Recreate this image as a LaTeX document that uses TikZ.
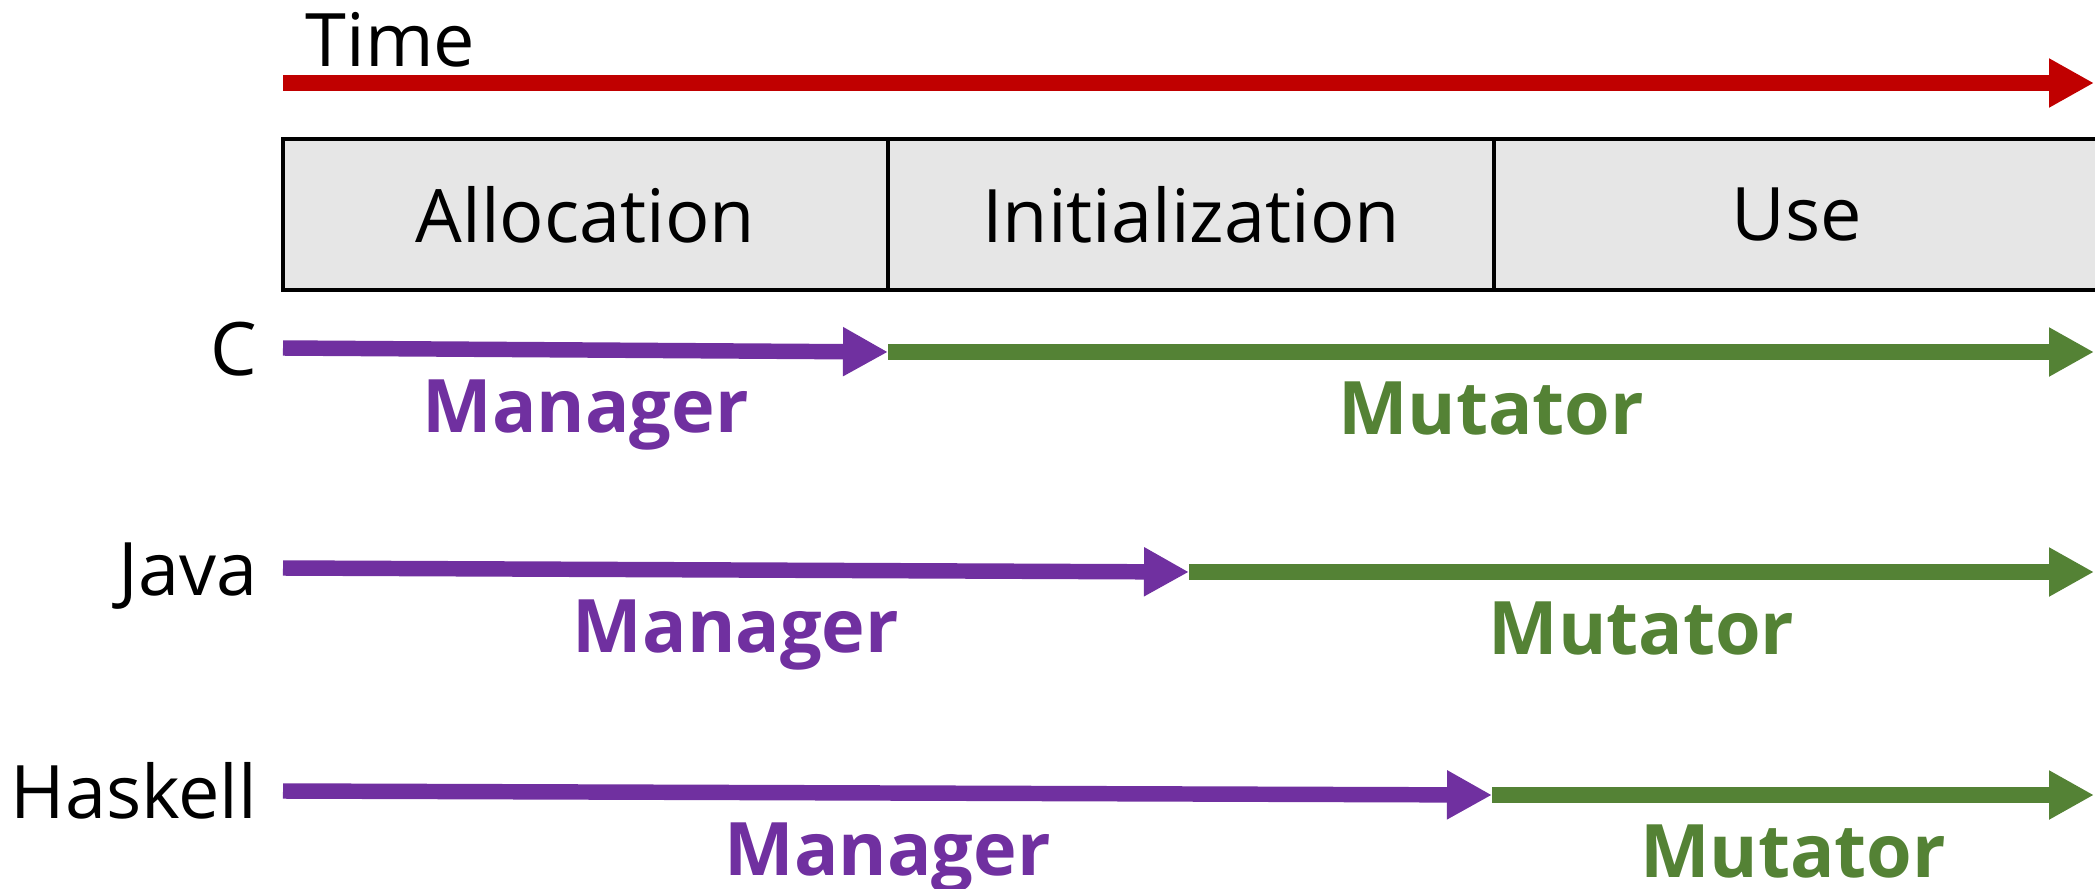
\documentclass[tikz,border=0pt]{standalone}
\usepackage{fontspec}
\setmainfont{Open Sans}
\usetikzlibrary{positioning, arrows.meta}

\definecolor{timered}{HTML}{C00000}
\definecolor{mgrpurple}{HTML}{7030A0}
\definecolor{mutgreen}{HTML}{548235}
\definecolor{phasegray}{HTML}{E6E6E6}

\begin{document}
\begin{tikzpicture}[
    phase/.style={draw, fill=phasegray, line width=1.2pt, minimum width=6.055cm,
                  minimum height=1.51cm, inner sep=0pt, outer sep=0pt,
                  font=\fontsize{21}{25}\selectfont},
    lang/.style={font=\fontsize{21}{25}\selectfont, inner sep=0pt},
    flow/.style={line width=4.4pt, -{Triangle[length=0.45cm, width=0.46cm]}},
    role/.style={font=\fontsize{21}{25}\selectfont\bfseries, inner sep=0pt,
                 midway, below=0.22cm}
  ]
    \useasboundingbox (0,0) rectangle (20.95,-8.89);

    % Time axis
    \node[lang, anchor=base west] (time) at (3.05,-0.67) {Time};
    \coordinate (t0) at (2.83,-0.83);
    \coordinate (t1) at (20.94,-0.83);
    \draw[flow, timered] (t0) -- (t1);

    % Phases
    \node[phase] (alloc) at (5.855,-2.145) {Allocation};
    \node[phase, right=0pt of alloc] (init) {Initialization};
    \node[phase, right=0pt of init] (use) {Use};

    % Who handles each phase, per language
    \foreach \lang/\y/\split in {C/3.50/8.88, Java/5.70/11.89, Haskell/7.93/14.92} {
      \node[lang, anchor=base east] (\lang) at (2.58,-\y-0.25) {\lang};
      \coordinate (\lang-a) at (2.83,-\y+0.02);
      \coordinate (\lang-b) at (\split,-\y-0.02);
      \coordinate (\lang-c) at (20.94,-\y-0.02);
      \draw[flow, mgrpurple] (\lang-a) -- node[role] {Manager} (\lang-b);
      \draw[flow, mutgreen] (\lang-b) -- node[role] {Mutator} (\lang-c);
    }
\end{tikzpicture}
\end{document}
